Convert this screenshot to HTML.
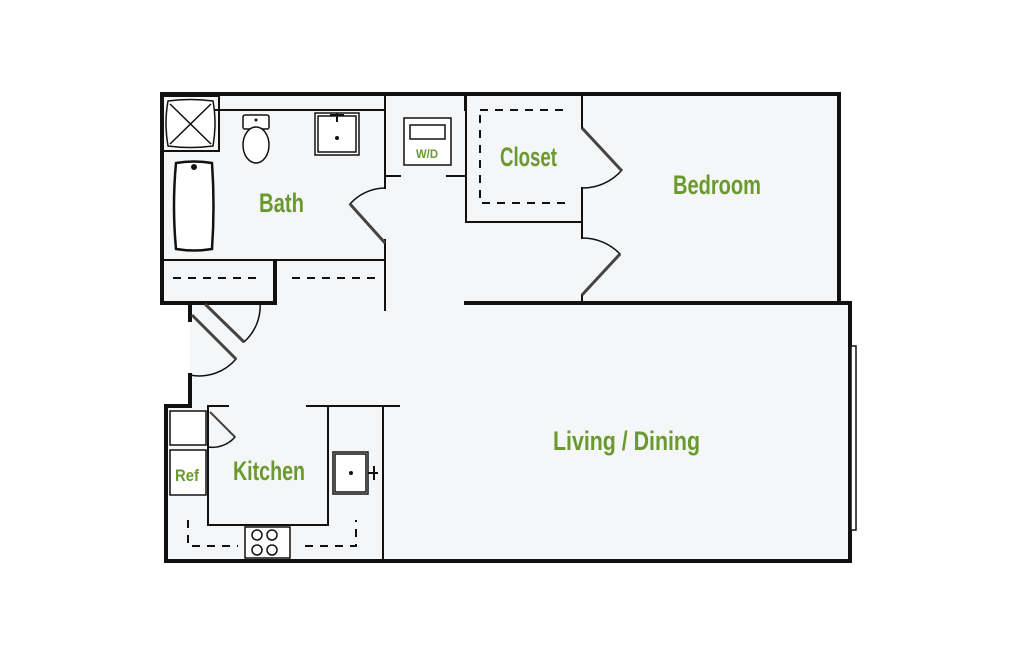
<!DOCTYPE html>
<html><head><style>
body{margin:0;background:#fff;}
svg{display:block}
text{font-family:"Liberation Sans",sans-serif;fill:#6a9a2e;stroke:none;font-weight:bold;}
</style></head><body>
<svg width="1024" height="651" viewBox="0 0 1024 651">
<g fill="#f4f6f8">
<rect x="162" y="94" width="677" height="209"/>
<rect x="190" y="300" width="660" height="262"/>
<rect x="165" y="405" width="220" height="157"/>
</g>
<g stroke="#111" fill="none" stroke-linecap="square">
<g stroke-width="4">
<path d="M162 303 V94 H839 V302"/>
<path d="M466 303 H850 V561 H166 V406 H190 V375"/>
<path d="M162 303 H275 V262"/>
<path d="M190 303 V320"/>
</g>
<g stroke-width="2">
<path d="M162 260 H385"/>
<path d="M190 110 H385"/>
<path d="M385 94 V188 M385 240 V310"/>
<path d="M465 94 V110"/>
<path d="M385 176 H400 M447 176 H466"/>
<path d="M466 94 V222 H582"/>
<path d="M582 94 V128 M582 188 V238 M582 295 V303"/>
<path d="M208 406 H228 M307 406 H399"/>
<path d="M208 406 V525 H328 V406"/>
<path d="M383 406 V561"/>
<rect x="163" y="96" width="56" height="55"/>
<path d="M385 188 A48 48 0 0 0 350 204" stroke-width="1.5"/>
<path d="M582 188 A52 52 0 0 0 622 170" stroke-width="1.5"/>
<path d="M582 238 A52 52 0 0 1 620 254" stroke-width="1.5"/>
<path d="M260 302 A48 48 0 0 1 244 342" stroke-width="1.5"/>
<path d="M190 375 A48 48 0 0 0 236 359" stroke-width="1.5"/>
<path d="M208 447 A30 30 0 0 0 235 437" stroke-width="1.5"/>
</g>
</g>
<g stroke="#444" stroke-width="3">
<path d="M350 204 L385 243"/>
<path d="M582 128 L622 171"/>
<path d="M582 295 L620 254"/>
<path d="M205 304 L244 342"/>
<path d="M192 315 L236 359"/>
<path d="M210 412 L235 437" stroke-width="2"/>
</g>
<g stroke="#111" stroke-width="2" stroke-dasharray="8 7" fill="none">
<path d="M173 278 H262"/>
<path d="M292 278 H375"/>
<path d="M480 110 H566"/>
<path d="M480 115 V203 H566"/>
<path d="M188 520 V546 H238"/>
<path d="M305 546 H356 V520"/>
</g>
<g stroke="#111" stroke-width="1.5" fill="#fff">
<path d="M168 101 Q190 98 213 101 Q217 123 213 146 Q190 149 168 146 Q164 123 168 101Z"/>
<path d="M170 104 L211 144 M211 104 L170 144" fill="none"/>
<path d="M176 163 Q194 160 212 163 Q215 206 212 249 Q194 252 176 249 Q172 206 176 163Z" stroke-width="2.5"/>
<rect x="243" y="115" width="26" height="14" rx="2"/>
<ellipse cx="256" cy="145" rx="13" ry="18"/>
<rect x="315" y="113" width="44" height="42"/>
<rect x="318" y="116" width="38" height="36"/>
<rect x="404" y="118" width="47" height="47"/>
<rect x="410" y="125" width="35" height="14"/>
<rect x="170" y="411" width="36" height="34"/>
<rect x="170" y="450" width="36" height="45"/>
<rect x="333" y="452" width="35" height="42"/>
<rect x="335" y="454" width="31" height="38"/>
<rect x="245" y="527" width="45" height="31"/>
<circle cx="257" cy="535" r="5"/><circle cx="272" cy="535" r="5"/>
<circle cx="257" cy="550" r="5"/><circle cx="272" cy="550" r="5"/>
<rect x="851" y="346" width="5" height="184"/>
</g>
<circle cx="194" cy="167" r="3" fill="#111"/>
<circle cx="256" cy="120" r="1.5" fill="#111"/>
<circle cx="337" cy="138" r="2" fill="#111"/>
<circle cx="351" cy="473" r="2" fill="#111"/>
<path d="M337 113 V122 M330 115 H344" stroke="#111" stroke-width="2"/>
<path d="M368 473 H378 M374 466 V480" stroke="#111" stroke-width="2"/>
<text x="259" y="212" font-size="27" textLength="45" lengthAdjust="spacingAndGlyphs">Bath</text>
<text x="500" y="166" font-size="27" textLength="57" lengthAdjust="spacingAndGlyphs">Closet</text>
<text x="673" y="194" font-size="27" textLength="88" lengthAdjust="spacingAndGlyphs">Bedroom</text>
<text x="553" y="450" font-size="27" textLength="147" lengthAdjust="spacingAndGlyphs">Living / Dining</text>
<text x="233" y="480" font-size="27" textLength="72" lengthAdjust="spacingAndGlyphs">Kitchen</text>
<text x="175" y="481" font-size="17" textLength="24" lengthAdjust="spacingAndGlyphs">Ref</text>
<text x="416" y="158" font-size="12" textLength="22" lengthAdjust="spacingAndGlyphs">W/D</text>
</svg>
</body></html>
